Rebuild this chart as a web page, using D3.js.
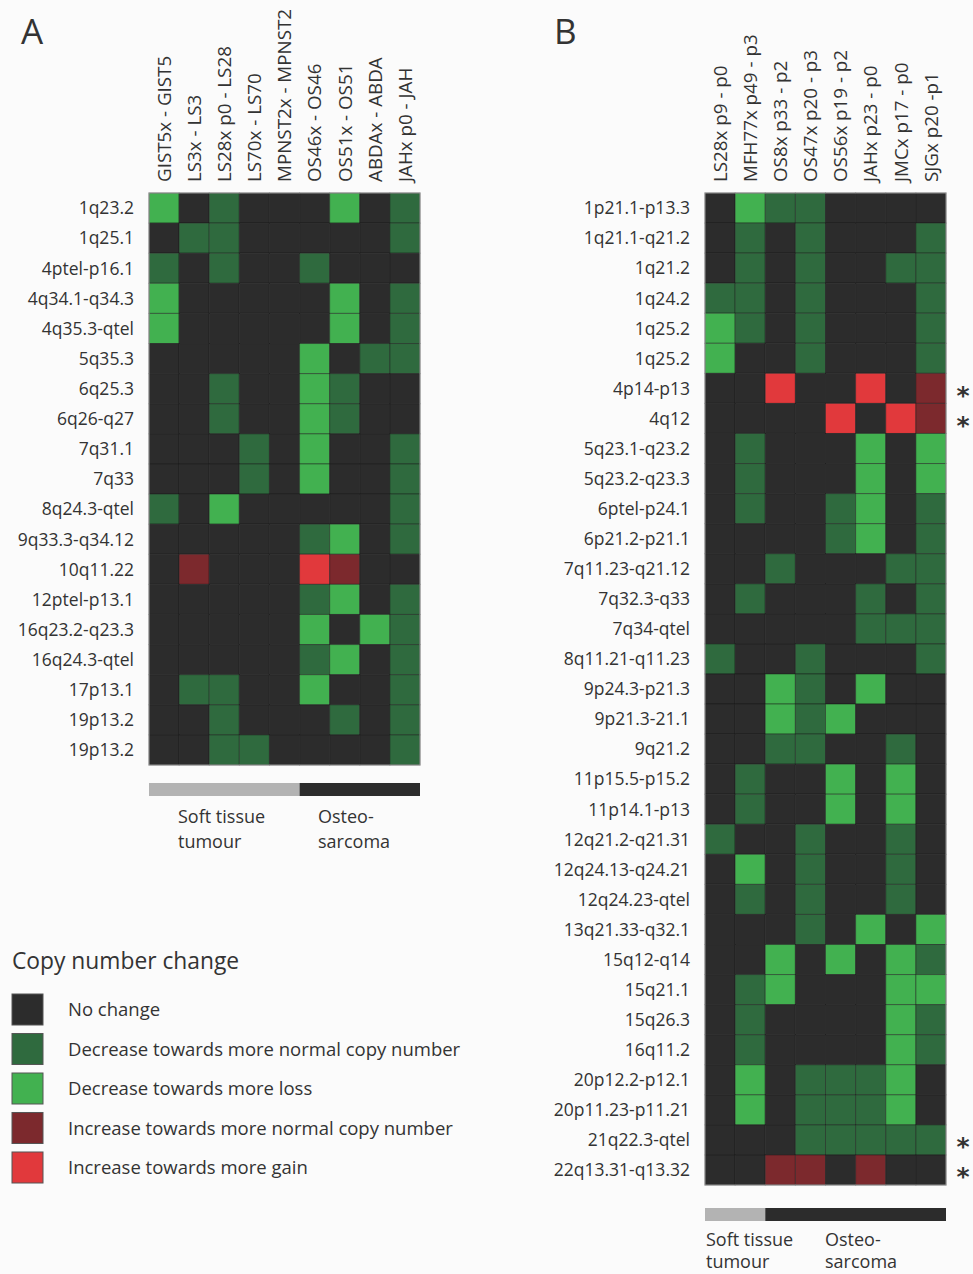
<!DOCTYPE html>
<html>
<head>
<meta charset="utf-8">
<script src="https://cdn.jsdelivr.net/npm/d3@7"></script>
<style>
  html, body { margin: 0; padding: 0; background: #fbfbfb; }
  svg { display: block; }
  text { font-family: "Open Sans", "Noto Sans", sans-serif; fill: #333; }
</style>
</head>
<body>
<svg id="chart" width="973" height="1274"></svg>
<script>
// ---- Data ----
// codes: 0 no change, 1 decrease towards normal, 2 decrease towards more loss,
//        3 increase towards normal, 4 increase towards more gain
const legendLabels = ["No change", "Decrease towards more normal copy number", "Decrease towards more loss",
  "Increase towards more normal copy number", "Increase towards more gain"];
const legendColors = ["#2c2c2c", "#2f6a3e", "#42b150", "#7c292d", "#e1393c"];

const samplesA = ["GIST5x - GIST5", "LS3x - LS3", "LS28x p0 - LS28", "LS70x - LS70", "MPNST2x - MPNST2",
  "OS46x - OS46", "OS51x - OS51", "ABDAx - ABDA", "JAHx p0 - JAH"];
const regionsA = ["1q23.2", "1q25.1", "4ptel-p16.1", "4q34.1-q34.3", "4q35.3-qtel", "5q35.3", "6q25.3", "6q26-q27",
  "7q31.1", "7q33", "8q24.3-qtel", "9q33.3-q34.12", "10q11.22", "12ptel-p13.1", "16q23.2-q23.3", "16q24.3-qtel",
  "17p13.1", "19p13.2", "19p13.2"];
const valuesA = [
  [2,0,1,0,0,0,2,0,1],
  [0,1,1,0,0,0,0,0,1],
  [1,0,1,0,0,1,0,0,0],
  [2,0,0,0,0,0,2,0,1],
  [2,0,0,0,0,0,2,0,1],
  [0,0,0,0,0,2,0,1,1],
  [0,0,1,0,0,2,1,0,0],
  [0,0,1,0,0,2,1,0,0],
  [0,0,0,1,0,2,0,0,1],
  [0,0,0,1,0,2,0,0,1],
  [1,0,2,0,0,0,0,0,1],
  [0,0,0,0,0,1,2,0,1],
  [0,3,0,0,0,4,3,0,0],
  [0,0,0,0,0,1,2,0,1],
  [0,0,0,0,0,2,0,2,1],
  [0,0,0,0,0,1,2,0,1],
  [0,1,1,0,0,2,0,0,1],
  [0,0,1,0,0,0,1,0,1],
  [0,0,1,1,0,0,0,0,1]
];
const softTissueCountA = 5;

const samplesB = ["LS28x p9 - p0", "MFH77x p49 - p3", "OS8x p33 - p2", "OS47x p20 - p3", "OS56x p19 - p2",
  "JAHx p23 - p0", "JMCx p17 - p0", "SJGx p20 -p1"];
const regionsB = ["1p21.1-p13.3", "1q21.1-q21.2", "1q21.2", "1q24.2", "1q25.2", "1q25.2", "4p14-p13", "4q12",
  "5q23.1-q23.2", "5q23.2-q23.3", "6ptel-p24.1", "6p21.2-p21.1", "7q11.23-q21.12", "7q32.3-q33", "7q34-qtel",
  "8q11.21-q11.23", "9p24.3-p21.3", "9p21.3-21.1", "9q21.2", "11p15.5-p15.2", "11p14.1-p13", "12q21.2-q21.31",
  "12q24.13-q24.21", "12q24.23-qtel", "13q21.33-q32.1", "15q12-q14", "15q21.1", "15q26.3", "16q11.2",
  "20p12.2-p12.1", "20p11.23-p11.21", "21q22.3-qtel", "22q13.31-q13.32"];
const valuesB = [
  [0,2,1,1,0,0,0,0],
  [0,1,0,1,0,0,0,1],
  [0,1,0,1,0,0,1,1],
  [1,1,0,1,0,0,0,1],
  [2,1,0,1,0,0,0,1],
  [2,0,0,1,0,0,0,1],
  [0,0,4,0,0,4,0,3],
  [0,0,0,0,4,0,4,3],
  [0,1,0,0,0,2,0,2],
  [0,1,0,0,0,2,0,2],
  [0,1,0,0,1,2,0,1],
  [0,0,0,0,1,2,0,1],
  [0,0,1,0,0,0,1,1],
  [0,1,0,0,0,1,0,1],
  [0,0,0,0,0,1,1,1],
  [1,0,0,1,0,0,0,1],
  [0,0,2,1,0,2,0,0],
  [0,0,2,1,2,0,0,0],
  [0,0,1,1,0,0,1,0],
  [0,1,0,0,2,0,2,0],
  [0,1,0,0,2,0,2,0],
  [1,0,0,1,0,0,1,0],
  [0,2,0,1,0,0,1,0],
  [0,1,0,1,0,0,1,0],
  [0,0,0,1,0,2,0,2],
  [0,0,2,0,2,0,2,1],
  [0,1,2,0,0,0,2,2],
  [0,1,0,0,0,0,2,1],
  [0,1,0,0,0,0,2,1],
  [0,2,0,1,1,1,2,0],
  [0,2,0,1,1,1,2,0],
  [0,0,0,1,1,1,1,1],
  [0,0,3,3,0,3,0,0]
];
const starredB = ["4p14-p13", "4q12", "21q22.3-qtel", "22q13.31-q13.32"];
const softTissueCountB = 2;
const groupLabels = [["Soft tissue", "tumour"], ["Osteo-", "sarcoma"]];

// ---- Drawing ----
const svg = d3.select("#chart");
const color = d3.scaleOrdinal().domain([0,1,2,3,4]).range(legendColors);

function panel(opts) {
  const g = svg.append("g");
  const x = d3.scaleBand().domain(opts.samples).range([opts.x0, opts.x1]);
  const y = d3.scaleBand().domain(d3.range(opts.regions.length)).range([opts.y0, opts.y1]);

  // panel letter
  g.append("text").attr("x", opts.letterX).attr("y", 44)
    .style("font-size", "35px").text(opts.letter);

  // column labels
  g.selectAll(".col").data(opts.samples).join("text")
    .attr("transform", d => `translate(${x(d) + x.bandwidth() / 2},${opts.y0 - 11}) rotate(-90)`)
    .attr("dy", "0.36em")
    .style("font-size", "18.8px")
    .text(d => d);

  // row labels
  g.selectAll(".row").data(opts.regions).join("text")
    .attr("x", opts.x0 - 15)
    .attr("y", (d, i) => y(i) + y.bandwidth() / 2)
    .attr("dy", "0.36em")
    .attr("text-anchor", "end")
    .style("font-size", "17.5px")
    .text(d => d);

  // cells
  const cells = [];
  opts.values.forEach((row, i) => row.forEach((v, j) => cells.push({ i, j, v })));
  g.selectAll(".cell").data(cells).join("rect")
    .attr("x", d => x(opts.samples[d.j]))
    .attr("y", d => y(d.i))
    .attr("width", x.bandwidth())
    .attr("height", y.bandwidth())
    .attr("fill", d => color(d.v))
    .attr("stroke", "rgba(20,20,20,0.45)")
    .attr("stroke-width", 1);

  g.append("rect")
    .attr("x", opts.x0).attr("y", opts.y0)
    .attr("width", opts.x1 - opts.x0).attr("height", opts.y1 - opts.y0)
    .attr("fill", "none").attr("stroke", "#9a9a9a").attr("stroke-width", 1);

  // stars
  if (opts.starred) {
    g.selectAll(".star").data(opts.starred).join("text")
      .attr("x", opts.x1 + 17)
      .attr("y", d => y(opts.regions.indexOf(d)) + y.bandwidth() / 2)
      .attr("dy", "0.62em")
      .style("font-family", "'DejaVu Sans', sans-serif")
      .style("font-size", "25px")
      .style("font-weight", "bold")
      .attr("text-anchor", "middle")
      .text("*");
  }

  // group bar
  const split = x(opts.samples[opts.softCount]);
  const barY = opts.y1 + opts.barGap;
  g.append("rect").attr("x", opts.x0).attr("y", barY).attr("width", split - opts.x0).attr("height", 13)
    .attr("fill", "#b3b3b3");
  g.append("rect").attr("x", split).attr("y", barY).attr("width", opts.x1 - split).attr("height", 13)
    .attr("fill", "#2c2c2c");

  const gx = [opts.softLabelX, opts.osteoLabelX];
  groupLabels.forEach((lines, k) => {
    lines.forEach((t, li) => {
      g.append("text").attr("x", gx[k]).attr("y", barY + opts.labelGap + li * opts.lineGap)
        .style("font-size", "18px").text(t);
    });
  });
}

panel({ letter: "A", letterX: 21, samples: samplesA, regions: regionsA, values: valuesA, barGap: 18,
  labelGap: 40, lineGap: 25,
  x0: 149, x1: 420, y0: 193, y1: 765, softCount: softTissueCountA, softLabelX: 178, osteoLabelX: 318 });
panel({ letter: "B", letterX: 554, samples: samplesB, regions: regionsB, values: valuesB, starred: starredB, barGap: 23,
  labelGap: 38, lineGap: 22,
  x0: 705, x1: 946, y0: 193, y1: 1185, softCount: softTissueCountB, softLabelX: 706, osteoLabelX: 825 });

// legend
const lg = svg.append("g");
lg.append("text").attr("x", 12).attr("y", 969).style("font-size", "22.8px").text("Copy number change");
const ly = d3.scaleBand().domain(d3.range(legendLabels.length)).range([994, 1183]).paddingInner(0.215);
lg.selectAll(".sw").data(legendLabels).join("rect")
  .attr("x", 12).attr("y", (d, i) => ly(i))
  .attr("width", 31).attr("height", ly.bandwidth())
  .attr("fill", (d, i) => legendColors[i])
  .attr("stroke", "#555").attr("stroke-width", 1);
lg.selectAll(".lt").data(legendLabels).join("text")
  .attr("x", 68).attr("y", (d, i) => ly(i) + ly.bandwidth() / 2)
  .attr("dy", "0.36em")
  .style("font-size", "18.5px")
  .text(d => d);
</script>
</body>
</html>
